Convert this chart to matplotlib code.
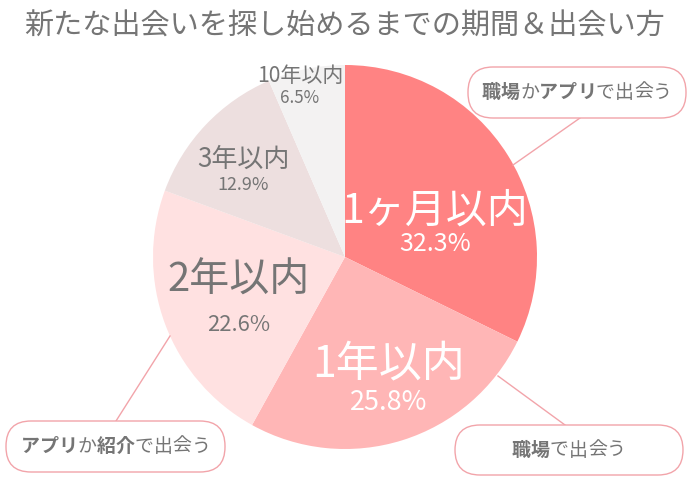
#!/usr/bin/env python3
# Pie chart: time until starting to look for a new encounter & way of meeting

import matplotlib.pyplot as plt
from matplotlib.patches import FancyBboxPatch

plt.rcParams['font.family'] = ['Noto Sans CJK JP', 'DejaVu Sans']

title = '新たな出会いを探し始めるまでの期間＆出会い方'
labels = ['1ヶ月以内', '1年以内', '2年以内', '3年以内', '10年以内']
values = [32.3, 25.8, 22.6, 12.9, 6.5]
colors = ['#FF8383', '#FFB6B6', '#FFE1E1', '#EDDFDF', '#F3F2F2']

# callout texts, (text, bold) segments
callouts = [
    [('職場', True), ('か', False), ('アプリ', True), ('で出会う', False)],
    [('職場', True), ('で出会う', False)],
    [('アプリ', True), ('か', False), ('紹介', True), ('で出会う', False)],
]

GRAY = '#757575'
PINK = '#F2A4AA'
H = 500


def Y(py):
    return H - py


fig = plt.figure(figsize=(6.9, 5.0), dpi=100)
ax = fig.add_axes((0, 0, 1, 1))

cx, cy, r = 345, 257, 192
ax.pie(values, colors=colors, startangle=90, counterclock=False,
       center=(cx, Y(cy)), radius=r, wedgeprops=dict(linewidth=0))

# slice labels: (x, y label, y pct, label size px, pct size px, color)
lab_pos = [
    (435, 211, 244, 41, 25, 'white'),
    (389, 364, 403, 43, 27, 'white'),
    (239, 281, 325, 40, 22, GRAY),
    (243, 159, 185, 26, 18, GRAY),
    (300, 76, 98, 21, 17, GRAY),
]
for lab, val, (x, y1, y2, s1, s2, c) in zip(labels, values, lab_pos):
    ax.text(x, Y(y1), lab, ha='center', va='center', color=c, fontsize=s1 * 0.72)
    ax.text(x, Y(y2), f'{val}%', ha='center', va='center', color=c, fontsize=s2 * 0.72)

# callout boxes: (x0, y0, x1, y1, leader from, leader to)
boxes = [
    (468, 67, 686, 118, (513, 165), (580, 118)),
    (455, 425, 683, 475, (498, 376), (565, 425)),
    (6, 421, 225, 472, (170, 336), (116, 421)),
]
fs_px = 19
for segs, (x0, y0, x1, y1, p, q) in zip(callouts, boxes):
    ax.plot([p[0], q[0]], [Y(p[1]), Y(q[1])], color=PINK, lw=1)
    ax.add_patch(FancyBboxPatch((x0, Y(y1)), x1 - x0, y1 - y0,
                                boxstyle='round,pad=0,rounding_size=25',
                                fc='white', ec=PINK, lw=1, zorder=3))
    total = sum(len(t) for t, b in segs) * fs_px
    x = (x0 + x1) / 2 - total / 2 + fs_px / 2
    # one full-width cell per character
    for t, b in segs:
        for ch in t:
            ax.text(x, Y((y0 + y1) / 2), ch, ha='center', va='center', color=GRAY,
                    fontsize=fs_px * 0.72, fontweight='bold' if b else 'normal',
                    zorder=4)
            x += fs_px

ax.text(345, Y(27), title, ha='center', va='center', color=GRAY, fontsize=21)

ax.set_xlim(0, 690)
ax.set_ylim(0, 500)
ax.axis('off')
fig.savefig('out.png', dpi=100)
